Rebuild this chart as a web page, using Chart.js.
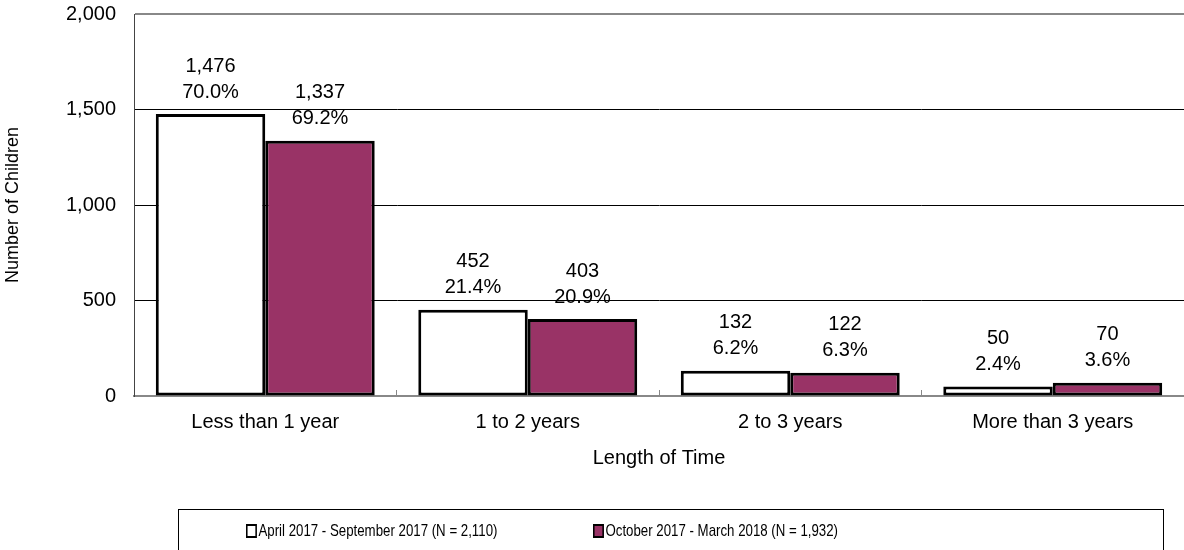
<!DOCTYPE html>
<html lang="en">
<head>
    <meta charset="UTF-8">
    <title>Length of Time</title>
    <script src="https://cdn.jsdelivr.net/npm/chart.js@4.4.1/dist/chart.umd.min.js"></script>
    <style>
        body { margin: 0; background: #ffffff; }
        #wrap { position: relative; width: 1184px; height: 550px; }
        #legend {
            position: absolute; left: 178px; top: 509px; width: 986px; height: 60px;
            border: 1px solid #000; box-sizing: border-box;
            font-family: "Liberation Sans", Arial, sans-serif;
            font-size: 17px; color: #000;
        }
        .item {
            position: absolute; top: 11px; display: flex; align-items: center; white-space: nowrap;
            transform: scaleX(0.78); transform-origin: left center;
        }
        .swatch { width: 10px; height: 10px; border: 2px solid #000; margin-right: 2px; }
    </style>
</head>
<body>
<div id="wrap">
    <canvas id="chart" width="1184" height="550"></canvas>
    <div id="legend"></div>
</div>

<script>
    // categories and series
    const categories = ['Less than 1 year', '1 to 2 years', '2 to 3 years', 'More than 3 years'];
    const seriesNames = ['April 2017 - September 2017 (N = 2,110)', 'October 2017 - March 2018 (N = 1,932)'];
    const aprSepCounts = [1476, 452, 132, 50];
    const octMarCounts = [1337, 403, 122, 70];
    const aprSepPercents = [70.0, 21.4, 6.2, 2.4];
    const octMarPercents = [69.2, 20.9, 6.3, 3.6];
    const yTicks = [0, 500, 1000, 1500, 2000];

    const colors = ['#ffffff', '#993366'];
    const percents = [aprSepPercents, octMarPercents];
    const font = "'Liberation Sans', Arial, sans-serif";

    // two-line labels (count + percent) above every bar
    const barLabels = {
        id: 'barLabels',
        afterDatasetsDraw(chart) {
            const ctx = chart.ctx;
            ctx.save();
            ctx.font = '20px ' + font;
            ctx.fillStyle = '#000';
            ctx.textAlign = 'center';
            ctx.textBaseline = 'middle';
            chart.data.datasets.forEach((ds, di) => {
                chart.getDatasetMeta(di).data.forEach((bar, i) => {
                    const top = bar.y;
                    ctx.fillText(ds.data[i].toLocaleString('en-US'), bar.x, top - 48);
                    ctx.fillText(percents[di][i].toFixed(1) + '%', bar.x, top - 22);
                });
            });
            ctx.restore();
        }
    };

    new Chart(document.getElementById('chart'), {
        type: 'bar',
        data: {
            labels: categories,
            datasets: [
                { label: seriesNames[0], data: aprSepCounts, backgroundColor: colors[0], borderColor: '#000', borderWidth: 3, borderSkipped: false },
                { label: seriesNames[1], data: octMarCounts, backgroundColor: colors[1], borderColor: '#000', borderWidth: 3, borderSkipped: false }
            ]
        },
        options: {
            responsive: false,
            animation: false,
            datasets: { bar: { barPercentage: 1.0, categoryPercentage: 0.834 } },
            layout: { padding: { top: 0, bottom: 80, left: 0, right: 0 } },
            plugins: { legend: { display: false }, tooltip: { enabled: false } },
            scales: {
                x: {
                    grid: {
                        offset: true, drawOnChartArea: false, drawTicks: true,
                        tickLength: -6, color: '#888', lineWidth: 1
                    },
                    border: { color: '#888', width: 2 },
                    ticks: { color: '#000', font: { family: font, size: 20 }, padding: 20, maxRotation: 0 },
                    title: { display: true, text: 'Length of Time', color: '#000', font: { family: font, size: 20 }, padding: 0 },
                    afterFit(scale) { scale.height = 74; }
                },
                y: {
                    min: 0, max: 2000,
                    afterBuildTicks(scale) { scale.ticks = yTicks.map(v => ({ value: v })); },
                    grid: {
                        drawTicks: false,
                        color: c => c.tick && c.tick.value === 2000 ? '#888' : '#000',
                        lineWidth: c => c.tick && c.tick.value === 2000 ? 2 : 1
                    },
                    border: { color: '#444', width: 1 },
                    ticks: {
                        color: '#000', font: { family: font, size: 20 }, padding: 18,
                        callback: v => v.toLocaleString('en-US')
                    },
                    title: { display: true, text: 'Number of Children', color: '#000', font: { family: font, size: 18 }, padding: { top: 2, bottom: 0 } },
                    afterFit(scale) {
                        scale.width = 134;
                        scale.paddingTop = 14;
                        scale.paddingBottom = 0;
                    }
                }
            }
        },
        plugins: [barLabels]
    });

    // boxed legend under the chart
    const legend = document.getElementById('legend');
    const itemLeft = [67, 414];
    seriesNames.forEach((name, i) => {
        const item = document.createElement('div');
        item.className = 'item';
        item.style.left = itemLeft[i] + 'px';
        item.innerHTML = '<span class="swatch" style="background:' + colors[i] + '"></span><span>' + name + '</span>';
        legend.appendChild(item);
    });
</script>
</body>
</html>
